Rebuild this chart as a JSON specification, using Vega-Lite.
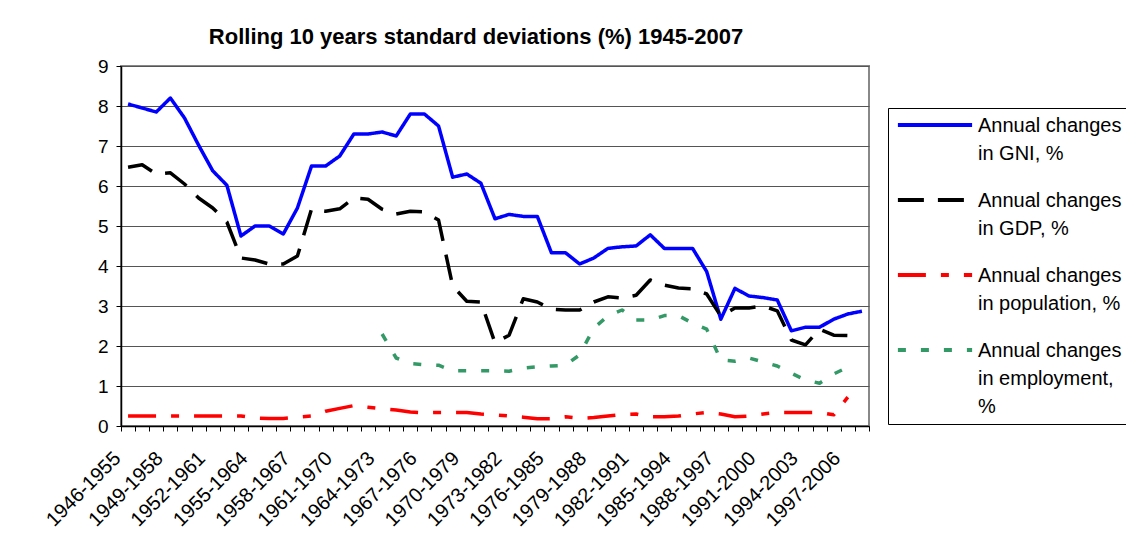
{
  "$schema": "https://vega.github.io/schema/vega-lite/v6.json",
  "width": 748,
  "height": 360,
  "autosize": {"type": "none"},
  "padding": {"left": 121, "top": 66, "right": 257, "bottom": 110},
  "background": "white",
  "title": {
    "text": "Rolling 10 years standard deviations (%) 1945-2007",
    "font": "Liberation Sans",
    "fontSize": 22,
    "fontWeight": "bold",
    "color": "#000",
    "anchor": "middle",
    "frame": "group",
    "dx": -19,
    "offset": 8
  },
  "data": {
    "values": [
      {"period": "1946-1955", "GNI": 8.05, "GDP": 6.47, "population": 0.25, "employment": null},
      {"period": "1947-1956", "GNI": 7.95, "GDP": 6.53, "population": 0.25, "employment": null},
      {"period": "1948-1957", "GNI": 7.85, "GDP": 6.3, "population": 0.25, "employment": null},
      {"period": "1949-1958", "GNI": 8.2, "GDP": 6.33, "population": 0.25, "employment": null},
      {"period": "1950-1959", "GNI": 7.7, "GDP": 6.05, "population": 0.25, "employment": null},
      {"period": "1951-1960", "GNI": 7.02, "GDP": 5.7, "population": 0.25, "employment": null},
      {"period": "1952-1961", "GNI": 6.38, "GDP": 5.45, "population": 0.25, "employment": null},
      {"period": "1953-1962", "GNI": 6.02, "GDP": 5.1, "population": 0.25, "employment": null},
      {"period": "1954-1963", "GNI": 4.75, "GDP": 4.2, "population": 0.25, "employment": null},
      {"period": "1955-1964", "GNI": 5.0, "GDP": 4.15, "population": 0.2, "employment": null},
      {"period": "1956-1965", "GNI": 5.0, "GDP": 4.05, "population": 0.19, "employment": null},
      {"period": "1957-1966", "GNI": 4.8, "GDP": 4.05, "population": 0.19, "employment": null},
      {"period": "1958-1967", "GNI": 5.45, "GDP": 4.25, "population": 0.22, "employment": null},
      {"period": "1959-1968", "GNI": 6.5, "GDP": 5.42, "population": 0.25, "employment": null},
      {"period": "1960-1969", "GNI": 6.5, "GDP": 5.37, "population": 0.37, "employment": null},
      {"period": "1961-1970", "GNI": 6.75, "GDP": 5.43, "population": 0.44, "employment": null},
      {"period": "1962-1971", "GNI": 7.3, "GDP": 5.7, "population": 0.51, "employment": null},
      {"period": "1963-1972", "GNI": 7.3, "GDP": 5.67, "population": 0.47, "employment": null},
      {"period": "1964-1973", "GNI": 7.35, "GDP": 5.42, "population": 0.43, "employment": 2.3},
      {"period": "1965-1974", "GNI": 7.25, "GDP": 5.3, "population": 0.4, "employment": 1.7},
      {"period": "1966-1975", "GNI": 7.8, "GDP": 5.37, "population": 0.35, "employment": 1.56},
      {"period": "1967-1976", "GNI": 7.8, "GDP": 5.35, "population": 0.33, "employment": 1.53},
      {"period": "1968-1977", "GNI": 7.5, "GDP": 5.15, "population": 0.34, "employment": 1.52},
      {"period": "1969-1978", "GNI": 6.22, "GDP": 3.5, "population": 0.34, "employment": 1.38},
      {"period": "1970-1979", "GNI": 6.3, "GDP": 3.12, "population": 0.34, "employment": 1.38},
      {"period": "1971-1980", "GNI": 6.07, "GDP": 3.1, "population": 0.3, "employment": 1.38},
      {"period": "1972-1981", "GNI": 5.18, "GDP": 2.08, "population": 0.28, "employment": 1.38},
      {"period": "1973-1982", "GNI": 5.29, "GDP": 2.27, "population": 0.25, "employment": 1.37},
      {"period": "1974-1983", "GNI": 5.24, "GDP": 3.18, "population": 0.22, "employment": 1.45},
      {"period": "1975-1984", "GNI": 5.24, "GDP": 3.1, "population": 0.18, "employment": 1.48},
      {"period": "1976-1985", "GNI": 4.33, "GDP": 2.92, "population": 0.18, "employment": 1.5},
      {"period": "1977-1986", "GNI": 4.33, "GDP": 2.9, "population": 0.23, "employment": 1.52},
      {"period": "1978-1987", "GNI": 4.05, "GDP": 2.9, "population": 0.19, "employment": 1.78},
      {"period": "1979-1988", "GNI": 4.2, "GDP": 3.1, "population": 0.21, "employment": 2.45},
      {"period": "1980-1989", "GNI": 4.44, "GDP": 3.23, "population": 0.25, "employment": 2.75},
      {"period": "1981-1990", "GNI": 4.48, "GDP": 3.2, "population": 0.29, "employment": 2.9},
      {"period": "1982-1991", "GNI": 4.5, "GDP": 3.27, "population": 0.3, "employment": 2.65},
      {"period": "1983-1992", "GNI": 4.78, "GDP": 3.65, "population": 0.23, "employment": 2.65},
      {"period": "1984-1993", "GNI": 4.44, "GDP": 3.52, "population": 0.23, "employment": 2.76},
      {"period": "1985-1994", "GNI": 4.44, "GDP": 3.45, "population": 0.25, "employment": 2.76},
      {"period": "1986-1995", "GNI": 4.44, "GDP": 3.43, "population": 0.3, "employment": 2.57},
      {"period": "1987-1996", "GNI": 3.86, "GDP": 3.3, "population": 0.34, "employment": 2.42},
      {"period": "1988-1997", "GNI": 2.67, "GDP": 2.75, "population": 0.3, "employment": 1.65},
      {"period": "1989-1998", "GNI": 3.44, "GDP": 2.95, "population": 0.23, "employment": 1.62},
      {"period": "1990-1999", "GNI": 3.25, "GDP": 2.95, "population": 0.25, "employment": 1.7},
      {"period": "1991-2000", "GNI": 3.21, "GDP": 3.0, "population": 0.3, "employment": 1.6},
      {"period": "1992-2001", "GNI": 3.15, "GDP": 2.88, "population": 0.34, "employment": 1.5},
      {"period": "1993-2002", "GNI": 2.38, "GDP": 2.15, "population": 0.34, "employment": 1.32},
      {"period": "1994-2003", "GNI": 2.47, "GDP": 2.03, "population": 0.34, "employment": 1.15},
      {"period": "1995-2004", "GNI": 2.47, "GDP": 2.42, "population": 0.34, "employment": 1.07},
      {"period": "1996-2005", "GNI": 2.67, "GDP": 2.27, "population": 0.28, "employment": 1.3},
      {"period": "1997-2006", "GNI": 2.8, "GDP": 2.26, "population": 0.72, "employment": 1.47},
      {"period": "1998-2007", "GNI": 2.87, "GDP": null, "population": null, "employment": null}
    ]
  },
  "transform": [
    {"fold": ["GNI", "GDP", "population", "employment"], "as": ["series", "value"]}
  ],
  "mark": {"type": "line", "strokeWidth": 3.5, "strokeCap": "butt", "strokeJoin": "round"},
  "encoding": {
    "x": {
      "field": "period",
      "type": "ordinal",
      "bandPosition": 0.5,
      "scale": {"type": "band", "paddingInner": 0, "paddingOuter": 0},
      "axis": {
        "title": null,
        "grid": false,
        "tickBand": "extent",
        "ticks": true,
        "tickSize": 5,
        "tickColor": "#000",
        "domainColor": "#000",
        "domainWidth": 1.5,
        "labelAngle": -45,
        "labelAlign": "right",
        "labelBaseline": "middle",
        "labelPadding": 24,
        "labelOffset": -11,
        "labelOverlap": false,
        "labelFont": "Liberation Sans",
        "labelFontSize": 20,
        "labelColor": "#000",
        "labelBound": false,
        "labelFlush": false,
        "labelExpr": "(toNumber(slice(datum.label, 0, 4)) - 1946) % 3 == 0 ? datum.label : ''"
      }
    },
    "y": {
      "field": "value",
      "type": "quantitative",
      "scale": {"domain": [0, 9], "nice": false, "zero": true},
      "axis": {
        "title": null,
        "values": [0, 1, 2, 3, 4, 5, 6, 7, 8, 9],
        "grid": true,
        "gridColor": "#555",
        "gridWidth": 1.2,
        "tickSize": 5,
        "tickColor": "#000",
        "domainColor": "#000",
        "domainWidth": 1.5,
        "labelFont": "Liberation Sans",
        "labelFontSize": 19,
        "labelColor": "#000",
        "labelPadding": 8
      }
    },
    "color": {
      "field": "series",
      "type": "nominal",
      "scale": {
        "domain": ["GNI", "GDP", "population", "employment"],
        "range": ["#0000FF", "#000000", "#FF0000", "#339966"]
      },
      "legend": {
        "title": null,
        "orient": "none",
        "legendX": 767,
        "legendY": 42,
        "padding": 7,
        "strokeColor": "#000",
        "fillColor": "#fff",
        "symbolType": "M-5.3,0H5.3",
        "symbolSize": 196,
        "symbolOffset": 30,
        "symbolStrokeWidth": 4,
        "labelFont": "Liberation Sans",
        "labelFontSize": 20,
        "labelColor": "#000",
        "labelLimit": 400,
        "labelOffset": 33,
        "labelBaseline": "alphabetic",
        "rowPadding": 26,
        "labelExpr": "datum.label == 'GNI' ? ['Annual changes', 'in GNI, %'] : datum.label == 'GDP' ? ['Annual changes', 'in GDP, %'] : datum.label == 'population' ? ['Annual changes', 'in population, %'] : ['Annual changes', 'in employment,', '%']",
        "encode": {"labels": {"update": {"lineHeight": {"value": 28}, "dy": {"value": 7}}}}
      }
    },
    "strokeDash": {
      "field": "series",
      "type": "nominal",
      "scale": {
        "domain": ["GNI", "GDP", "population", "employment"],
        "range": [[1, 0], [26, 14], [28, 15, 8, 15], [8, 15]]
      },
      "legend": {
        "title": null,
        "orient": "none",
        "legendX": 767,
        "legendY": 42,
        "padding": 7,
        "strokeColor": "#000",
        "fillColor": "#fff",
        "symbolType": "M-5.3,0H5.3",
        "symbolSize": 196,
        "symbolOffset": 30,
        "symbolStrokeWidth": 4,
        "labelFont": "Liberation Sans",
        "labelFontSize": 20,
        "labelColor": "#000",
        "labelLimit": 400,
        "labelOffset": 33,
        "labelBaseline": "alphabetic",
        "rowPadding": 26,
        "labelExpr": "datum.label == 'GNI' ? ['Annual changes', 'in GNI, %'] : datum.label == 'GDP' ? ['Annual changes', 'in GDP, %'] : datum.label == 'population' ? ['Annual changes', 'in population, %'] : ['Annual changes', 'in employment,', '%']",
        "encode": {"labels": {"update": {"lineHeight": {"value": 28}, "dy": {"value": 7}}}}
      }
    }
  },
  "config": {
    "view": {"stroke": "#888", "strokeWidth": 2},
    "font": "Liberation Sans"
  }
}
